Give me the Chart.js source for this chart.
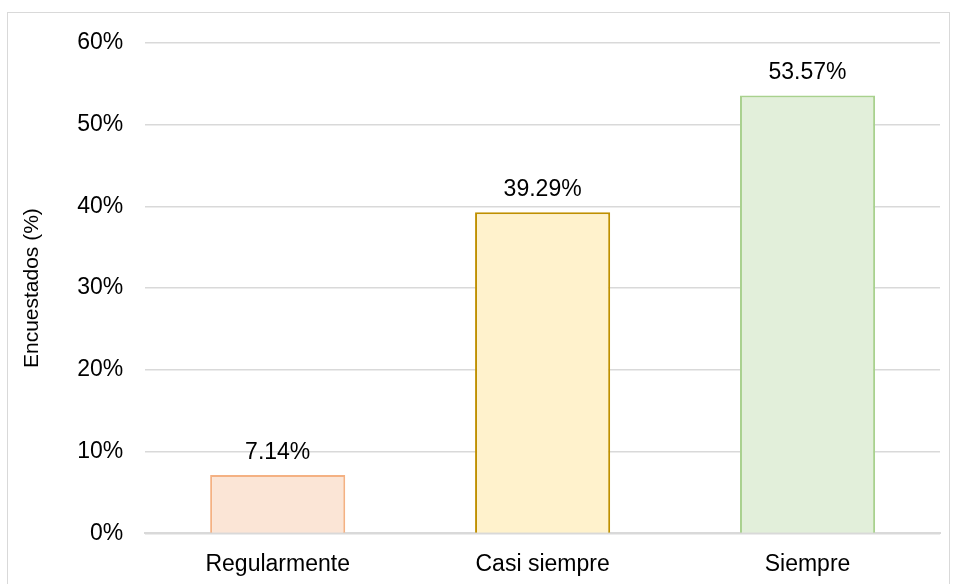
<!DOCTYPE html>
<html>
<head>
<meta charset="utf-8">
<script src="https://cdn.jsdelivr.net/npm/chart.js@4/dist/chart.umd.min.js"></script>
<style>
  body { margin: 0; background: #fff; overflow: hidden; }
  #box { position: absolute; left: 7px; top: 12px; width: 943px; height: 600px; border: 1px solid #d9d9d9; box-sizing: border-box; }
  #wrap { position: absolute; left: 8px; top: 7px; width: 941px; height: 601px; }
</style>
</head>
<body>
<div id="box"></div>
<div id="wrap"><canvas id="chart"></canvas></div>
<script>
const categories = ['Regularmente', 'Casi siempre', 'Siempre'];
const percentages = [7.14, 39.29, 53.57];
const fillColors = ['#FBE5D6', '#FFF2CC', '#E2EFDA'];
const edgeColors = ['#F4B183', '#BF9000', '#A9D18E'];

// labels above each bar
const valueLabels = {
    id: 'valueLabels',
    afterDatasetsDraw(chart) {
        const ctx = chart.ctx;
        const meta = chart.getDatasetMeta(0);
        ctx.save();
        ctx.font = '23px "Liberation Sans", Arial, sans-serif';
        ctx.fillStyle = '#000';
        ctx.textAlign = 'center';
        ctx.textBaseline = 'bottom';
        meta.data.forEach((bar, i) => {
            ctx.fillText(percentages[i].toFixed(2) + '%', bar.x, bar.y - 11);
        });
        ctx.restore();
    }
};

const ctx = document.getElementById('chart').getContext('2d');
new Chart(ctx, {
    type: 'bar',
    data: {
        labels: categories,
        datasets: [{
            data: percentages,
            backgroundColor: fillColors,
            borderColor: edgeColors,
            borderWidth: 2,
            categoryPercentage: 1,
            barPercentage: 0.51
        }]
    },
    options: {
        responsive: true,
        maintainAspectRatio: false,
        animation: false,
        layout: { padding: { top: 6, right: 9, bottom: 13, left: 12 } },
        scales: {
            y: {
                min: 0,
                max: 60,
                ticks: {
                    stepSize: 10,
                    padding: 22,
                    color: '#000',
                    font: { family: '"Liberation Sans", Arial, sans-serif', size: 23 },
                    callback: v => v + '%'
                },
                grid: { color: '#d9d9d9', lineWidth: 1.5, drawTicks: false },
                border: { display: false },
                title: {
                    display: true,
                    text: 'Encuestados (%)',
                    color: '#000',
                    font: { family: '"Liberation Sans", Arial, sans-serif', size: 21 },
                    padding: { top: 0, bottom: 10 }
                }
            },
            x: {
                ticks: {
                    padding: 17,
                    color: '#000',
                    font: { family: '"Liberation Sans", Arial, sans-serif', size: 23 }
                },
                grid: { display: false, drawTicks: false },
                border: { display: true, color: '#d9d9d9', width: 2 }
            }
        },
        plugins: {
            legend: { display: false },
            tooltip: { enabled: false }
        }
    },
    plugins: [valueLabels]
});
</script>
</body>
</html>
